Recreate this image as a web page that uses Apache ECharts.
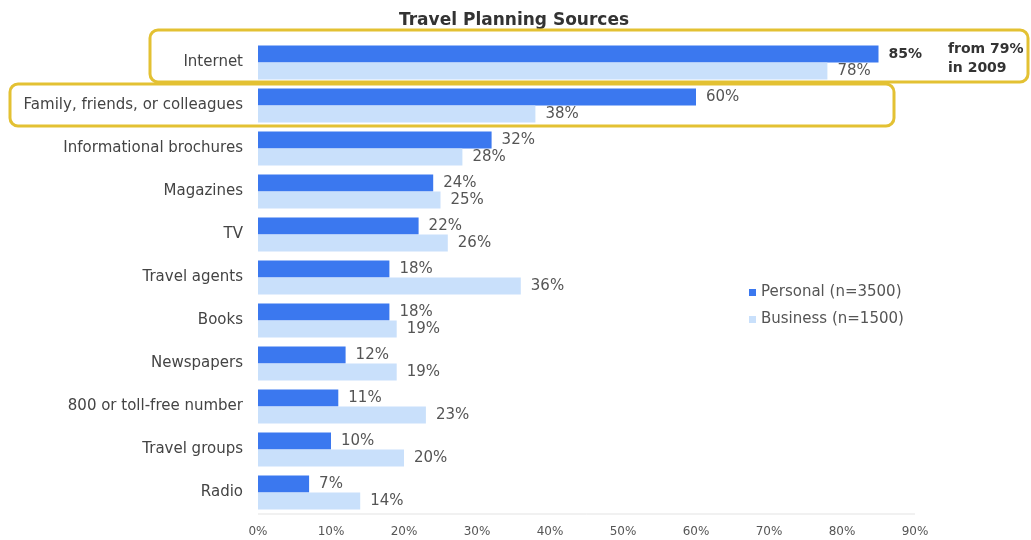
<!DOCTYPE html>
<html>
<head>
<meta charset="utf-8">
<script src="https://cdn.jsdelivr.net/npm/echarts@6/dist/echarts.min.js"></script>
<style>html,body{margin:0;padding:0;background:#fff}#c{width:1031px;height:540px}</style>
</head>
<body>
<div id="c"></div>
<script>
const categories = ["Internet","Family, friends, or colleagues","Informational brochures","Magazines","TV","Travel agents","Books","Newspapers","800 or toll-free number","Travel groups","Radio"];
const personal = [85,60,32,24,22,18,18,12,11,10,7];
const business = [78,38,28,25,26,36,19,19,23,20,14];
const xTicks = [0,10,20,30,40,50,60,70,80,90];
const seriesNames = ["Personal (n=3500)","Business (n=1500)"];
const titleText = "Travel Planning Sources";
const noteText = "from 79%\nin 2009";

const FONT = "'DejaVu Sans', Verdana, sans-serif";
const chart = echarts.init(document.getElementById('c'), null, {renderer:'canvas'});
const lbl = {show:true, position:'right', distance:10, formatter:'{c}%', color:'#555', fontSize:15, fontFamily:FONT};
chart.setOption({
  animation:false,
  backgroundColor:'#fff',
  title:{text:titleText, left:394, top:7, textStyle:{fontSize:17, fontWeight:'bold', color:'#333', fontFamily:FONT}},
  legend:{orient:'vertical', left:744, top:280, icon:'rect', itemWidth:7, itemHeight:7, itemGap:12,
    textStyle:{fontSize:15, color:'#555', fontFamily:FONT}, data:seriesNames},
  grid:{left:258, top:41, width:657, height:473, containLabel:false},
  xAxis:{type:'value', min:xTicks[0], max:xTicks[xTicks.length-1], interval:10,
    axisLine:{show:false}, axisTick:{show:false}, splitLine:{show:false},
    axisLabel:{formatter:'{value}%', fontSize:12, color:'#555', margin:12, fontFamily:FONT}},
  yAxis:{type:'category', data:categories, inverse:true,
    axisLine:{show:false}, axisTick:{show:false},
    axisLabel:{fontSize:15, color:'#444', margin:15, fontFamily:FONT}},
  series:[
    {name:seriesNames[0], type:'bar', barWidth:17, barGap:'0%', itemStyle:{color:'#3b78ef'},
     label:lbl,
     data:personal.map((v,i)=> i===0 ? {value:v, label:{fontWeight:'bold', fontSize:14, color:'#333'}} : v)},
    {name:seriesNames[1], type:'bar', barWidth:17, barGap:'0%', itemStyle:{color:'#c9e0fb'},
     label:lbl, data:business}
  ],
  graphic:[
    {type:'line', shape:{x1:258, y1:514, x2:915, y2:514}, style:{stroke:'#e3e3e3', lineWidth:1}, z:1},
    {type:'rect', shape:{x:150, y:30, width:878, height:52, r:8}, style:{fill:'none', stroke:'#e3c133', lineWidth:3}, z:10},
    {type:'rect', shape:{x:10, y:84, width:884, height:42, r:8}, style:{fill:'none', stroke:'#e3c133', lineWidth:3}, z:10},
    {type:'text', left:948, top:40, style:{text:noteText, font:"bold 14px 'DejaVu Sans', Verdana, sans-serif", fill:'#333', lineHeight:19}, z:10}
  ]
});
</script>
</body>
</html>
